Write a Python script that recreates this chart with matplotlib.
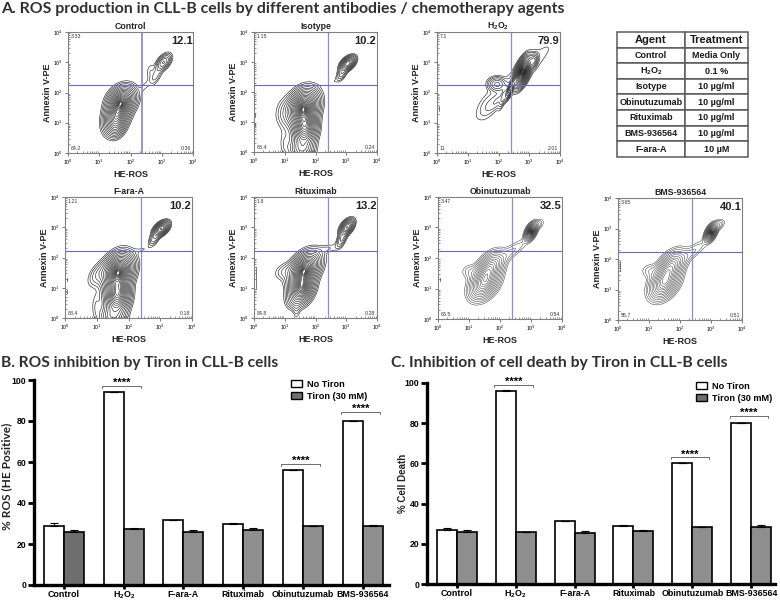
import numpy as np
import matplotlib
matplotlib.use("Agg")
import matplotlib.pyplot as plt
from matplotlib.patches import Patch

W, H = 780, 600
plt.rcParams['font.family'] = ['Liberation Sans', 'DejaVu Sans']
plt.rcParams['mathtext.fontset'] = 'custom'
plt.rcParams['mathtext.bf'] = 'Liberation Sans:bold'
plt.rcParams['mathtext.rm'] = 'Liberation Sans:bold'

H2O2 = r"H$_\mathbf{2}$O$_\mathbf{2}$"

# flow panels: name, big number, corner percentages (UL, LL, LR)
panel_names = ["Control", "Isotype", H2O2, "F-ara-A", "Rituximab", "Obinutuzumab", "BMS-936564"]
panel_pct = ["12.1", "10.2", "79.9", "10.2", "13.2", "32.5", "40.1"]
panel_ul = ["3.33", "1.15", "7.1", "1.21", "1.8", "3.47", "3.65"]
panel_ll = ["84.2", "88.4", "11", "88.4", "84.8", "63.5", "55.7"]
panel_lr = ["0.36", "0.24", "2.01", "0.18", "0.28", "0.54", "0.51"]
gate_x = [2.37, 2.41, 2.40, 2.39, 2.41, 2.40, 2.40]
gate_y = [2.25, 2.23, 2.24, 2.22, 2.20, 2.23, 2.23]

# populations, in decades: x, y, sd x, sd y, corr, height
control_blobs = [(1.55, 1.22, .2, .28, .3, .7), (1.72, 1.72, .22, .24, .25, .8), (1.55, .85, .14, .18, .2, .18),
                 (3.06, 3.0, .13, .15, .5, .22), (2.8, 2.55, .13, .2, .6, .06), (2.45, 2.2, .1, .13, .6, .02),
                 (2.62, 2.72, .08, .17, .3, .025)]
isotype_blobs = [(1.6, 1.5, .25, .3, .25, 1.0), (1.65, .85, .2, .34, .1, .85), (1.55, .1, .22, .2, 0, .25),
                 (1.0, 1.3, .2, .32, .1, .05), (1.0, .3, .12, .3, 0, .03),
                 (3.05, 2.95, .13, .13, .5, .5), (2.85, 2.6, .1, .13, .5, .1), (2.5, 2.33, .2, .08, .5, .018)]
fara_blobs = [(1.68, 1.55, .24, .3, .25, 1.0), (1.65, .8, .2, .34, .1, .85), (1.5, .05, .22, .2, 0, .22),
              (1.05, 1.45, .2, .25, .5, .07), (.98, .4, .1, .3, 0, .03),
              (3.03, 2.95, .13, .13, .5, .5), (2.8, 2.6, .1, .13, .5, .09), (2.45, 2.27, .2, .08, .4, .018)]
h2o2_blobs = [(2.78, 2.68, .12, .22, .6, 1.0), (2.4, 2.15, .09, .17, .85, .3), (2.15, 1.85, .07, .2, .8, .04),
              (1.95, 2.27, .15, .12, 0, .08), (3.14, 3.05, .07, .12, .3, .12),
              (2.65, 2.55, .72, .7, .94, .011), (1.65, 1.55, .22, .3, .5, .011), (2.0, 1.75, .2, .2, .75, .022)]
ritux_blobs = [(1.65, 1.62, .25, .28, .4, .9), (1.55, 1.02, .2, .27, .25, .85), (1.0, 1.55, .2, .17, .3, .05),
               (1.38, .28, .07, .2, 0, .03), (1.3, .55, .17, .17, 0, .05),
               (3.02, 3.0, .12, .14, .5, .45), (2.85, 2.6, .1, .16, .6, .12), (2.4, 2.3, .24, .1, .4, .03)]
obinu_blobs = [(1.65, 1.65, .23, .26, .5, .85), (1.5, 1.18, .23, .26, .4, 1.0), (1.05, 1.55, .17, .14, 0, .06),
               (3.0, 2.87, .09, .13, .5, 1.6), (3.2, 3.08, .12, .11, .5, .08), (2.35, 2.2, .33, .26, .85, .07)]
bms_blobs = [(1.68, 1.72, .23, .26, .5, .85), (1.5, 1.22, .23, .26, .4, 1.0), (1.05, 1.6, .17, .14, 0, .06),
             (3.0, 2.87, .09, .13, .5, 1.6), (3.22, 3.1, .12, .11, .5, .1), (2.35, 2.2, .33, .26, .85, .07)]
panel_blobs = [control_blobs, isotype_blobs, h2o2_blobs, fara_blobs, ritux_blobs, obinu_blobs, bms_blobs]

# stray events on the left edge: x, y low, y high (decades)
edge_marks = [[], [(.04, 1.18, 1.3), (.04, .86, .96)], [(.08, 1.4, 1.55)], [(.05, 1.22, 1.32), (.05, .83, .93)],
              [(.05, .97, 1.69)], [(.07, 1.26, 1.36)], [(.07, 1.62, 1.92)]]

# left, right, top, bottom of each flow panel, pixels
panel_box = [(68, 193, 32, 153), (254, 377, 32, 152), (437, 560, 32, 153),
             (65, 192, 197, 318), (254, 377, 197, 318), (438, 562, 197, 319), (618, 742, 198, 320)]
panel_rings = [20, 22, 22, 22, 20, 20, 20]
panel_rmax = [2.85, 2.85, 3.3, 2.85, 2.85, 2.95, 2.95]
panel_line = [.42, .42, .42, .42, .42, .3, .3]

# table
table_rows = [["Agent", "Treatment"], ["Control", "Media Only"], [H2O2, "0.1 %"],
              ["Isotype", "10 µg/ml"], ["Obinutuzumab", "10 µg/ml"], ["Rituximab", "10 µg/ml"],
              ["BMS-936564", "10 µg/ml"], ["F-ara-A", "10 µM"]]

# bars
groups = ["Control", H2O2, "F-ara-A", "Rituximab", "Obinutuzumab", "BMS-936564"]
ros_none = [29, 94, 31.7, 30, 56, 80]
ros_none_err = [1.2, 0.1, 0.2, 0.3, 0.1, 0.1]
ros_tiron = [25.8, 27.3, 26, 27, 28.8, 29]
ros_tiron_err = [1.1, 0.3, 1, 1, 0.1, 0.1]
death_none = [27, 96.2, 31.3, 29, 60.3, 80.2]
death_none_err = [1, 0.2, 0.1, 0.4, 0.1, 0.1]
death_tiron = [26, 25.7, 25.6, 26.2, 28.2, 28.5]
death_tiron_err = [1, 0.1, 1, 0.8, 0.1, 1]


def box_axes(fig, l, r, t, b):
    return fig.add_axes([l / W, 1 - b / H, (r - l) / W, (b - t) / H])


def put(fig, x, y, s, **kw):
    fig.text(x / W, 1 - y / H, s, **kw)


def flow_panel(fig, i):
    l, r, t, b = panel_box[i]
    ax = box_axes(fig, l, r, t, b)
    gx = np.linspace(0, 4, 400)
    gy = np.linspace(0, 4, 400)
    X, Y = np.meshgrid(gx, gy)
    Z = np.zeros_like(X)
    for cx, cy, sx, sy, rho, h in panel_blobs[i]:
        u = (X - cx) / sx
        v = (Y - cy) / sy
        Z += h * np.exp(-(u * u - 2 * rho * u * v + v * v) / (2 * (1 - rho * rho)))
    # rings closer together towards the middle of a population
    rings = panel_rmax[i] * np.linspace(1, 0.2, panel_rings[i]) ** 1.7
    levels = Z.max() * np.exp(-rings ** 2 / 2)
    ax.set_xscale('log')
    ax.set_yscale('log')
    ax.contour(10 ** X, 10 ** Y, Z, levels=levels, colors='#1c1c1c', linewidths=panel_line[i])
    for mx, y0, y1 in edge_marks[i]:
        ax.plot([10 ** mx, 10 ** mx], [10 ** y0, 10 ** y1], color='#444444', lw=0.5)
    ax.set_xlim(1, 1e4)
    ax.set_ylim(1, 1e4)
    ax.axvline(10 ** gate_x[i], color='#8c8cd0', lw=1.3 if i == 0 else 0.9)
    ax.axhline(10 ** gate_y[i], color='#6a6ab8', lw=0.8)
    for s in ax.spines.values():
        s.set_color('#808080')
        s.set_linewidth(0.8)
    ax.tick_params(which='major', length=2, width=0.5, labelsize=3.8, pad=1.5, direction='out', color='#444444')
    ax.tick_params(which='minor', length=1.2, width=0.4, direction='in', color='#444444')
    ax.set_xticks([1, 10, 100, 1000, 10000])
    ax.set_yticks([1, 10, 100, 1000, 10000])
    ax.text(.995, .97, panel_pct[i], transform=ax.transAxes, ha='right', va='top', fontsize=8, fontweight='bold', color='#222222')
    ax.text(.02, .985, panel_ul[i], transform=ax.transAxes, ha='left', va='top', fontsize=3.8, color='#333333')
    ax.text(.02, .015, panel_ll[i], transform=ax.transAxes, ha='left', va='bottom', fontsize=3.8, color='#333333')
    ax.text(.985, .015, panel_lr[i], transform=ax.transAxes, ha='right', va='bottom', fontsize=3.8, color='#333333')
    ax.set_title(panel_names[i], fontsize=6.3, fontweight='bold', pad=2.5, color='#222222')
    ax.set_xlabel("HE-ROS", fontsize=6.5, fontweight='bold', labelpad=2, color='#222222')
    ax.set_ylabel("Annexin V-PE", fontsize=6.5, fontweight='bold', labelpad=1, color='#222222')


def bar_panel(fig, box, spacing, first, none, none_err, tiron, tiron_err, marks, legend_xy, control_dark):
    l, r, t, b = box
    ax = box_axes(fig, l, r, t, b)
    ax.set_xlim((l - first) / spacing, (r - first) / spacing)
    ax.set_ylim(0, 100)
    x = np.arange(len(groups))
    bw = 20 / spacing
    err = dict(ecolor='black', elinewidth=0.8, capsize=3.2, capthick=0.8)
    greys = ['#8e8e8e'] * len(groups)
    if control_dark:
        greys[0] = '#6e6e6e'
    ax.bar(x - bw / 2, none, bw, yerr=[np.zeros(len(none)), none_err], color='white', edgecolor='black', linewidth=1.2, error_kw=err)
    ax.bar(x + bw / 2, tiron, bw, yerr=[np.zeros(len(tiron)), tiron_err], color=greys, edgecolor='black', linewidth=1.2, error_kw=err)
    for idx, y in marks:
        a, c = idx - .36, idx + .29
        ax.plot([a, a, c, c], [y - 1, y, y, y - 1], color='#333333', lw=0.5, clip_on=False)
        ax.text((a + c) / 2, y - 1, "****", ha='center', va='bottom', fontsize=8, fontweight='bold', clip_on=False)
    for s in ['top', 'right']:
        ax.spines[s].set_visible(False)
    for s in ['left', 'bottom']:
        ax.spines[s].set_linewidth(2.4)
    ax.set_xticks(x)
    ax.set_xticklabels(groups, fontsize=6.4, fontweight='bold')
    ax.set_yticks([0, 20, 40, 60, 80, 100])
    ax.set_yticklabels(['0', '20', '40', '60', '80', '100'], fontsize=6.2, fontweight='bold')
    ax.tick_params(axis='x', length=3, width=2, pad=0.5)
    ax.tick_params(axis='y', length=4, width=2, pad=1.5)
    h = [Patch(facecolor='white', edgecolor='black', linewidth=1), Patch(facecolor='#6e6e6e', edgecolor='black', linewidth=1)]
    ax.legend(h, ["No Tiron", "Tiron (30 mM)"], loc='upper left', frameon=False,
              prop=dict(size=6.6, weight='bold'),
              bbox_to_anchor=((legend_xy[0] - l) / (r - l), 1 - (legend_xy[1] - t) / (b - t)),
              borderpad=0, borderaxespad=0, handlelength=1.2, handleheight=.8, handletextpad=.55, labelspacing=.32)
    return ax


fig = plt.figure(figsize=(W / 100, H / 100), dpi=100, facecolor='white')

head = dict(family='Lato', fontweight='bold', color='#303030', va='center', ha='left')
put(fig, 1, 9, "A. ROS production in CLL-B cells by different antibodies / chemotherapy agents", fontsize=11.45, **head)
put(fig, 1, 363, "B. ROS inhibition by Tiron in CLL-B cells", fontsize=11.2, **head)
put(fig, 391, 363, "C. Inhibition of cell death by Tiron in CLL-B cells", fontsize=11.35, **head)

for i in range(len(panel_names)):
    flow_panel(fig, i)

# table, upper right
tab_ax = box_axes(fig, 617, 748, 32, 157)
tab_ax.axis('off')
tb = tab_ax.table(cellText=table_rows, bbox=[0, 0, 1, 1], cellLoc='center', colWidths=[68, 63])
tb.auto_set_font_size(False)
for (row, col), cell in tb.get_celld().items():
    cell.set_edgecolor('#5a5a5a')
    cell.set_linewidth(1.1)
    cell.get_text().set_fontweight('bold')
    cell.get_text().set_fontsize(8 if row == 0 else 6.5)
    cell.get_text().set_color('#1a1a1a')
    cell.PAD = 0.01

bar_panel(fig, (34, 389, 380, 585), 59.7, 64, ros_none, ros_none_err, ros_tiron, ros_tiron_err,
          [(1, 97.2), (4, 59), (5, 84.4)], (291, 380), True)
put(fig, 7, 476, "% ROS (HE Positive)", fontsize=8.6, family='Lato', fontweight='bold', rotation=90, ha='center', va='center', color='#222222')

bar_panel(fig, (427, 775, 383, 584), 58.9, 456.7, death_none, death_none_err, death_tiron, death_tiron_err,
          [(1, 99), (4, 63), (5, 83.6)], (696, 382), False)
put(fig, 403, 483, "% Cell Death", fontsize=7, fontweight='bold', rotation=90, ha='center', va='center', color='#222222')

fig.savefig("out.png", dpi=100)
